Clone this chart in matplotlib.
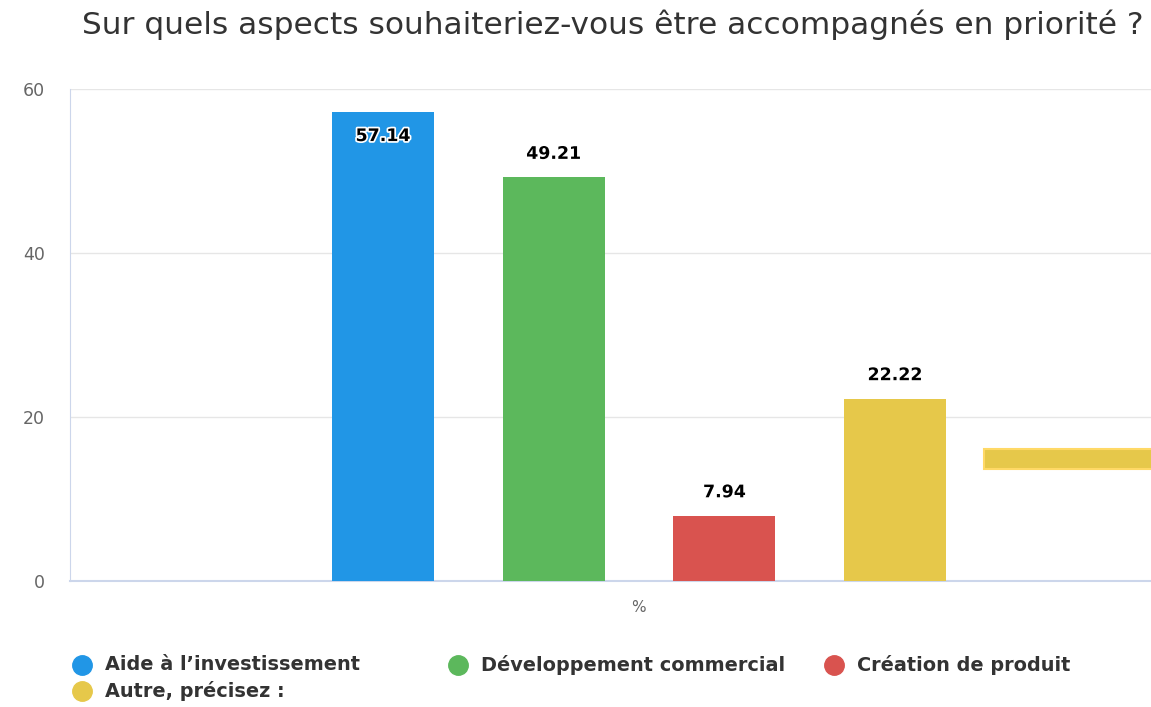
import matplotlib
matplotlib.use('Agg')
import matplotlib.pyplot as plt
import matplotlib.patheffects as pe
from matplotlib.lines import Line2D

# data
series = ['Aide à l\u2019investissement', 'Développement commercial',
          'Création de produit', 'Autre, précisez :']
values = [57.14, 49.21, 7.94, 22.22]
colors = ['#2196e6', '#5cb85c', '#d9534f', '#e6c84a']
category = '%'
# stray segment drawn at the right edge of the original
stray_low, stray_high = 13.7, 16.1

TITLE = 'Sur quels aspects souhaiteriez-vous être accompagnés en priorité ?'

fig = plt.figure(figsize=(11.51, 7.07), dpi=100)
ax = fig.add_axes([70 / 1151, 1 - 581 / 707, 1138 / 1151, 492 / 707])

width = 0.0896
offsets = [-0.225, -0.075, 0.075, 0.225]
outline = [pe.withStroke(linewidth=2.5, foreground='white')]
for off, v, c in zip(offsets, values, colors):
    ax.bar(off, v, width, color=c, edgecolor=c, linewidth=0, zorder=3)
    dy = -17 if v > 55 else 17
    ax.annotate(f'{v:.2f}', (off, v), xytext=(0, dy), textcoords='offset points',
                ha='center', va='center', fontsize=12.5, fontweight='bold', color='black',
                path_effects=outline, zorder=5)

ax.bar(0.303, stray_high - stray_low, 0.3, bottom=stray_low, align='edge',
       color=colors[3], edgecolor='#ffd966', linewidth=1.5, zorder=3)

ax.set_xlim(-0.5, 0.5)
ax.set_ylim(0, 60)
ax.set_yticks([0, 20, 40, 60])
ax.set_xticks([])
ax.grid(axis='y', color='#e6e6e6', linewidth=1, zorder=0)
for s in ['top', 'right']:
    ax.spines[s].set_visible(False)
ax.spines['left'].set_color('#ccd6eb')
ax.spines['bottom'].set_color('#ccd6eb')
ax.spines['bottom'].set_linewidth(1.5)
ax.tick_params(axis='y', length=0, pad=18, labelsize=12.5, labelcolor='#666666')

fig.text(638 / 1151, 1 - 608 / 707, category, ha='center', va='center',
         fontsize=11, color='#666666')

fig.text(82 / 1151, 1 - 25 / 707, TITLE, ha='left', va='center',
         fontsize=22.5, color='#333333')

# legend
leg_pos = [(82, 665), (458, 665), (834, 665), (82, 691)]
for (lx, ly), name, c in zip(leg_pos, series, colors):
    fig.add_artist(Line2D([lx / 1151], [1 - ly / 707], marker='o', markersize=14,
                          color=c, linestyle='none', transform=fig.transFigure))
    fig.text((lx + 23) / 1151, 1 - ly / 707, name, ha='left', va='center',
             fontsize=13.9, fontweight='bold', color='#333333')

fig.savefig('out.png', dpi=100)
